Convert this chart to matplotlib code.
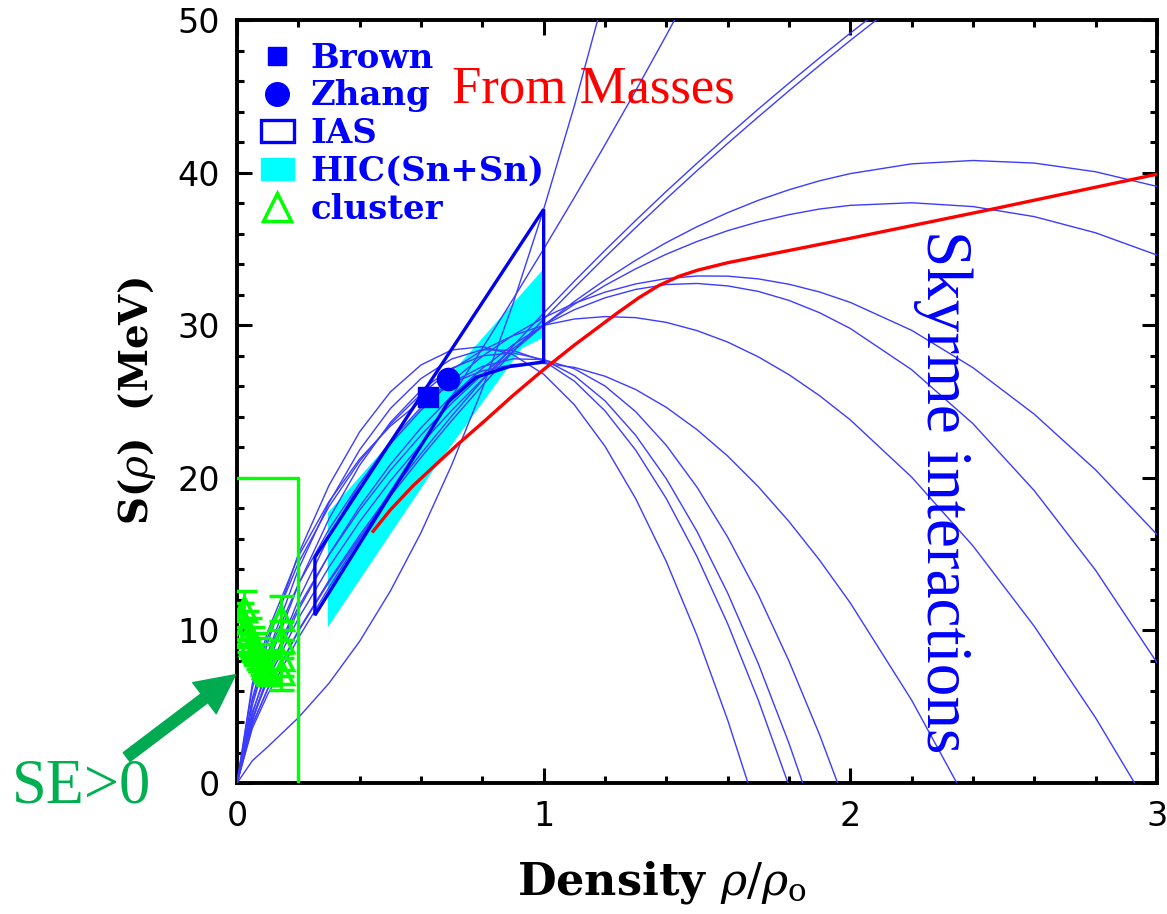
import matplotlib
matplotlib.use('Agg')
import matplotlib.pyplot as plt
from matplotlib.lines import Line2D
from matplotlib.patches import Patch, Polygon
from matplotlib.ticker import MultipleLocator
import numpy as np

plt.rcParams['mathtext.fontset'] = 'dejavuserif'

# density grid shared by the Skyrme curves
rho = [0, 0.05, 0.1, 0.2, 0.3, 0.4, 0.5, 0.6, 0.7, 0.8, 0.9, 1.0, 1.1, 1.2, 1.3,
       1.4, 1.5, 1.6, 1.7, 1.8, 1.9, 2.0, 2.2, 2.4, 2.6, 2.8, 3.0]

# Skyrme symmetry energies (MeV) (curves stop once they leave the frame)
sk_L1 = [0, 1.46, 2.37, 4.28, 6.54, 9.29, 12.58, 16.41, 20.84, 25.83, 31.41, 37.6, 44.38, 51.78]
sk_L2 = [0, 3.59, 5.80, 9.50, 12.82, 15.99, 19.10, 22.20, 25.32, 28.49, 31.71, 35.00, 38.37,
         41.83, 45.37, 49.01, 52.75]
sk_L3a = [0, 3.82, 6.17, 10.00, 13.28, 16.25, 19.00, 21.59, 24.05, 26.39, 28.64, 30.80, 32.89,
          34.91, 36.87, 38.78, 40.62, 42.42, 44.17, 45.87, 47.53, 49.15, 52.27]
sk_L3b = [0, 3.82, 6.15, 9.94, 13.17, 16.09, 18.80, 21.34, 23.75, 26.05, 28.27, 30.40, 32.46,
          34.46, 36.40, 38.29, 40.13, 41.92, 43.66, 45.37, 47.04, 48.67, 51.82]
sk_E1 = [0, 4.19, 6.73, 10.78, 14.16, 17.13, 19.80, 22.21, 24.42, 26.45, 28.30, 30.00, 31.56,
         32.97, 34.26, 35.42, 36.46, 37.38, 38.19, 38.88, 39.47, 39.94, 40.58, 40.80, 40.63,
         40.06, 39.10]
sk_E2 = [0, 4.66, 7.35, 11.54, 14.96, 17.89, 20.49, 22.80, 24.89, 26.77, 28.47, 30.00, 31.38,
         32.61, 33.70, 34.66, 35.49, 36.20, 36.78, 37.25, 37.62, 37.86, 38.03, 37.78, 37.12,
         36.06, 34.60]
sk_E3 = [0, 5.40, 8.43, 13.03, 16.63, 19.65, 22.22, 24.43, 26.33, 27.97, 29.35, 30.50, 31.44,
         32.17, 32.71, 33.06, 33.23, 33.22, 33.04, 32.69, 32.18, 31.50, 29.67, 27.22, 24.17,
         20.52, 16.29]
sk_E4 = [0, 4.25, 6.95, 11.33, 14.97, 18.12, 20.87, 23.28, 25.37, 27.18, 28.72, 30.00, 31.02,
         31.80, 32.35, 32.67, 32.74, 32.58, 32.22, 31.63, 30.82, 29.79, 27.09, 23.55, 19.16,
         13.94, 7.89]
sk_C = [0, 6.22, 9.55, 14.43, 18.12, 21.09, 23.51, 25.49, 27.09, 28.36, 29.32, 30.00, 30.41,
        30.57, 30.50, 30.19, 29.65, 28.90, 27.93, 26.76, 25.38, 23.80, 20.05, 15.54, 10.27,
        4.27, -2.45]
sk_D = [0, 6.51, 9.93, 14.85, 18.45, 21.24, 23.39, 25.03, 26.22, 27.01, 27.43, 27.50, 27.24,
        26.66, 25.79, 24.62, 23.16, 21.43, 19.42, 17.14, 14.60, 11.80, 5.43, -1.94]
sk_S1 = [0, 5.55, 9.20, 15.00, 19.51, 23.02, 25.63, 27.40, 28.38, 28.60, 28.07, 26.79, 24.79,
         22.07, 18.64, 14.51, 9.67, 4.13, -2.10]
sk_S2 = [0, 5.09, 8.50, 14.00, 18.36, 21.84, 24.54, 26.51, 27.79, 28.40, 28.35, 27.66, 26.34,
         24.39, 21.82, 18.64, 14.84, 10.44, 5.43, -0.18]
sk_S3 = [0, 4.50, 7.70, 13.00, 17.32, 20.83, 23.63, 25.74, 27.19, 28.00, 28.19, 27.75, 26.70,
         25.05, 22.79, 19.94, 16.49, 12.45, 7.82, 2.60, -3.21]
sk_S4 = [0, 4.03, 7.00, 12.00, 16.15, 19.60, 22.41, 24.62, 26.24, 27.30, 27.80, 27.75, 27.15,
         26.02, 24.34, 22.13, 19.39, 16.12, 12.33, 7.99, 3.15, -2.22]
skyrme = [sk_L1, sk_L2, sk_L3a, sk_L3b, sk_E1, sk_E2, sk_E3, sk_E4,
          sk_C, sk_D, sk_S1, sk_S2, sk_S3, sk_S4]

# "From Masses" constraint
mass_x = [0.444, 0.5, 0.575, 0.65, 0.72, 0.8, 0.9, 1.0, 1.1, 1.24, 1.31, 1.375, 1.44, 1.5,
          1.6, 2.0, 2.46, 3.0]
mass_y = [16.5, 17.9, 19.5, 20.9, 22.2, 23.6, 25.4, 27.1, 28.7, 30.8, 31.8, 32.6, 33.2, 33.6,
          34.1, 35.7, 37.6, 39.9]

# IAS region (open polygon) and HIC(Sn+Sn) band
ias_x = [0.254, 1.0, 1.0, 0.93, 0.89, 0.78, 0.69, 0.254]
ias_y = [14.8, 37.6, 27.6, 27.4, 27.3, 26.6, 25.0, 11.0]
hic_x = [0.296, 0.296, 1.0, 1.0, 0.93, 0.64]
hic_y = [10.2, 17.7, 33.7, 29.2, 28.5, 20.5]

# single points
brown_x, brown_y = [0.624], [25.3]
zhang_x, zhang_y = [0.689], [26.5]

# cluster points with errors
cl_x = [0.012, 0.022, 0.03, 0.04, 0.05, 0.06, 0.07, 0.08, 0.09, 0.10, 0.145, 0.145, 0.145, 0.145]
cl_y = [10.6, 11.4, 10.2, 9.7, 9.2, 8.8, 8.5, 8.1, 7.7, 7.4, 10.8, 9.4, 8.2, 7.3]
cl_err = [1.2, 1.2, 1.1, 1.1, 1.0, 1.0, 1.0, 1.0, 1.0, 1.0, 1.45, 1.2, 1.2, 1.2]

# SE>0 limit box
box_x = [0, 0.2, 0.2]
box_y = [20, 20, 0]

blue = '#0000ff'
green = '#00ff00'

fig = plt.figure(figsize=(11.67, 9.14), dpi=100)
ax = fig.add_axes([0.2031, 0.1433, 0.7883, 0.8347])

ax.fill(hic_x, hic_y, color='#00ffff', lw=0, zorder=2)
for s in skyrme:
    ax.plot(rho[:len(s)], s, color='#3c3cff', lw=1.0, zorder=3)
ax.add_patch(Polygon(np.column_stack([ias_x, ias_y]), closed=True, fill=False,
                     edgecolor='#0000ee', lw=2.4, zorder=4))
ax.plot(box_x, box_y, color=green, lw=2.4, zorder=5)
ax.plot(mass_x, mass_y, color='#ff0000', lw=2.4, zorder=6)
ax.errorbar(cl_x, cl_y, yerr=cl_err, fmt='^', mfc='none', mec=green, ms=17, mew=2.5,
            ecolor=green, elinewidth=2, capsize=9, capthick=2.5, zorder=7)
ax.plot(brown_x, brown_y, 's', color=blue, ms=14, zorder=8)
ax.plot(zhang_x, zhang_y, 'o', color=blue, ms=16, zorder=8)

# texts
ax.text(0.70, 44.6, 'From Masses', color='#ff0000', fontsize=38, family='Liberation Serif')
ax.text(2.30, 19.1, 'Skyrme interactions', color=blue, fontsize=47, family='Liberation Serif',
        rotation=270, ha='center', va='center')
ax.text(-0.735, -1.3, 'SE>0', color='#00b050', fontsize=45, family='Liberation Serif',
        clip_on=False)
ax.annotate('', xy=(-0.005, 7.1), xytext=(-0.36, 1.7), annotation_clip=False,
            arrowprops=dict(facecolor='#00aa50', edgecolor='#00aa50', width=8,
                            headwidth=28, headlength=28, shrink=0))

# legend
handles = [
    Line2D([], [], ls='none', marker='s', color=blue, ms=13),
    Line2D([], [], ls='none', marker='o', color=blue, ms=17),
    Patch(facecolor='none', edgecolor=blue, lw=2.4),
    Patch(facecolor='#00ffff', edgecolor='#00ffff'),
    Line2D([], [], ls='none', marker='^', mfc='none', mec=green, mew=2.5, ms=20),
]
labels = ['Brown', 'Zhang', 'IAS', 'HIC(Sn+Sn)', 'cluster']
leg = ax.legend(handles, labels, loc='upper left', bbox_to_anchor=(0.0, 1.003),
                frameon=False, prop={'family': 'DejaVu Serif', 'weight': 'bold', 'size': 24.5},
                handlelength=0.97, handleheight=0.6, handletextpad=0.5, labelspacing=0.14,
                borderaxespad=0.3)
for t in leg.get_texts():
    t.set_color(blue)

# axes styling
ax.set_xlim(0, 3)
ax.set_ylim(0, 50)
ax.set_xticks([0, 1, 2, 3])
ax.set_yticks(range(0, 51, 10))
ax.xaxis.set_minor_locator(MultipleLocator(0.2))
ax.yaxis.set_minor_locator(MultipleLocator(2))
ax.tick_params(which='both', direction='in', top=True, right=True, width=2.2)
ax.tick_params(which='major', length=11, labelsize=24, pad=12)
ax.tick_params(which='minor', length=5)
for sp in ax.spines.values():
    sp.set_linewidth(2.8)

ax.set_xlabel(r'Density $\rho/\rho_{\mathrm{o}}$', fontsize=32, family='DejaVu Serif',
              weight='bold')
ax.xaxis.set_label_coords(0.462, -0.1)
ax.set_ylabel(r'S($\rho$)  (MeV)', fontsize=28, family='DejaVu Serif', weight='bold',
              labelpad=14)

fig.savefig('out.png', dpi=100)
